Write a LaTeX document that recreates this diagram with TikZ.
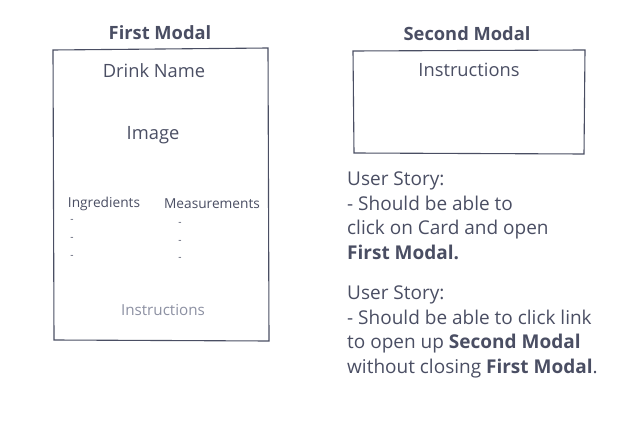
\documentclass[tikz,border=0pt]{standalone}
\usepackage{fontspec}
\setmainfont{Open Sans}
\definecolor{ink}{HTML}{4A4E63}
\definecolor{soft}{HTML}{8C90A2}
\begin{document}
\begin{tikzpicture}[x=1pt,y=-1pt,
  box/.style={draw=ink,line width=1.1pt},
  title/.style={font=\fontsize{18.3}{20}\selectfont\bfseries,text=ink},
  big/.style={font=\fontsize{18.3}{20}\selectfont,text=ink},
  small/.style={font=\fontsize{13.7}{15}\selectfont,text=ink},
  dashmark/.style={font=\fontsize{10}{12}\selectfont,text=ink},
  story/.style={font=\fontsize{19}{24.4}\selectfont,text=ink,align=left,anchor=north west,inner sep=0pt}]
\useasboundingbox (0,0) rectangle (642,422);
\draw[box] (53,50) -- (268,48) -- (269,341) -- (54,340) -- cycle;
\draw[box] (353,51) -- (585,50) -- (584,154) -- (354,153) -- cycle;
\node[title] (t1) at (160,33) {First Modal};
\node[title] (t2) at (467,34) {Second Modal};
\node[big] (dn) at (154,71) {Drink Name};
\node[big] (img) at (153,135) {Image};
\node[small] (ing) at (104,204) {Ingredients};
\node[small] (mea) at (212,204) {Measurements};
\node[dashmark] (d1) at (72,221) {-};
\node[dashmark] (d2) at (72,239) {-};
\node[dashmark] (d3) at (72,257) {-};
\node[dashmark] (e1) at (180,224) {-};
\node[dashmark] (e2) at (180,242) {-};
\node[dashmark] (e3) at (180,259) {-};
\node[font=\fontsize{15.2}{17}\selectfont,text=soft] (ins1) at (163,310) {Instructions};
\node[big] (ins2) at (469,70) {Instructions};
\node[story] (s1) at (347,172) {User Story:\\- Should be able to\\click on Card and open\\\textbf{First Modal.}};
\node[story] (s2) at (347,286) {User Story:\\- Should be able to click link\\to open up \textbf{Second Modal}\\without closing \textbf{First Modal}.};
\end{tikzpicture}
\end{document}
